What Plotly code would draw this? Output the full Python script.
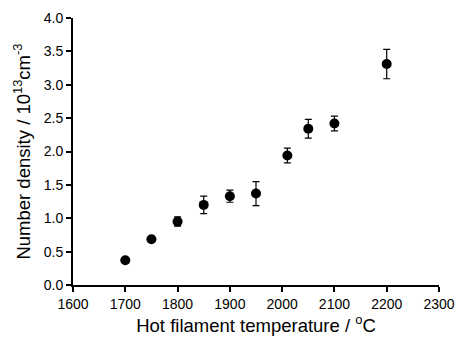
import plotly.graph_objects as go

temps = [1700, 1750, 1800, 1850, 1900, 1950, 2010, 2050, 2100, 2200]
density = [0.37, 0.685, 0.95, 1.20, 1.33, 1.37, 1.94, 2.34, 2.42, 3.31]
errors = [0.0, 0.03, 0.07, 0.13, 0.09, 0.18, 0.11, 0.14, 0.11, 0.22]

x_ticks = [1600, 1700, 1800, 1900, 2000, 2100, 2200, 2300]
y_ticks = [0.0, 0.5, 1.0, 1.5, 2.0, 2.5, 3.0, 3.5, 4.0]

fig = go.Figure(go.Scatter(
    x=temps, y=density, mode="markers",
    marker=dict(color="black", size=10, symbol="circle"),
    error_y=dict(type="data", array=errors, visible=True, color="black", thickness=1.2, width=3.5),
    cliponaxis=False,
))

font = "Liberation Sans, Arial, sans-serif"
fig.update_layout(
    width=456, height=338,
    margin=dict(l=73, r=17, t=18, b=53),
    paper_bgcolor="white", plot_bgcolor="white",
    showlegend=False,
    font=dict(family=font, color="black", size=14),
)
fig.update_xaxes(
    range=[1600, 2300], tickvals=x_ticks, ticktext=[str(v) for v in x_ticks],
    showline=True, linecolor="black", linewidth=2,
    ticks="outside", ticklen=5, tickwidth=2, tickcolor="black",
    showgrid=False, zeroline=False, automargin=False,
    tickfont=dict(size=14),
    title=dict(text="Hot filament temperature / <sup>o</sup>C", font=dict(size=18.5), standoff=8),
)
fig.update_yaxes(
    range=[0, 4], tickvals=y_ticks, ticktext=[f"{v:.1f}" for v in y_ticks],
    showline=True, linecolor="black", linewidth=2,
    ticks="outside", ticklen=5, tickwidth=2, tickcolor="black",
    showgrid=False, zeroline=False, automargin=False,
    tickfont=dict(size=14),
    title=dict(text="Number density / 10<sup>13</sup>cm<sup>-3</sup>", font=dict(size=18.5), standoff=8),
)
# remove the browser's default 8px body margin so the figure fills the window exactly
fig.write_html(
    "out.html",
    config={"displayModeBar": False},
    post_script="document.body.style.margin='0';document.body.style.overflow='hidden';",
)
